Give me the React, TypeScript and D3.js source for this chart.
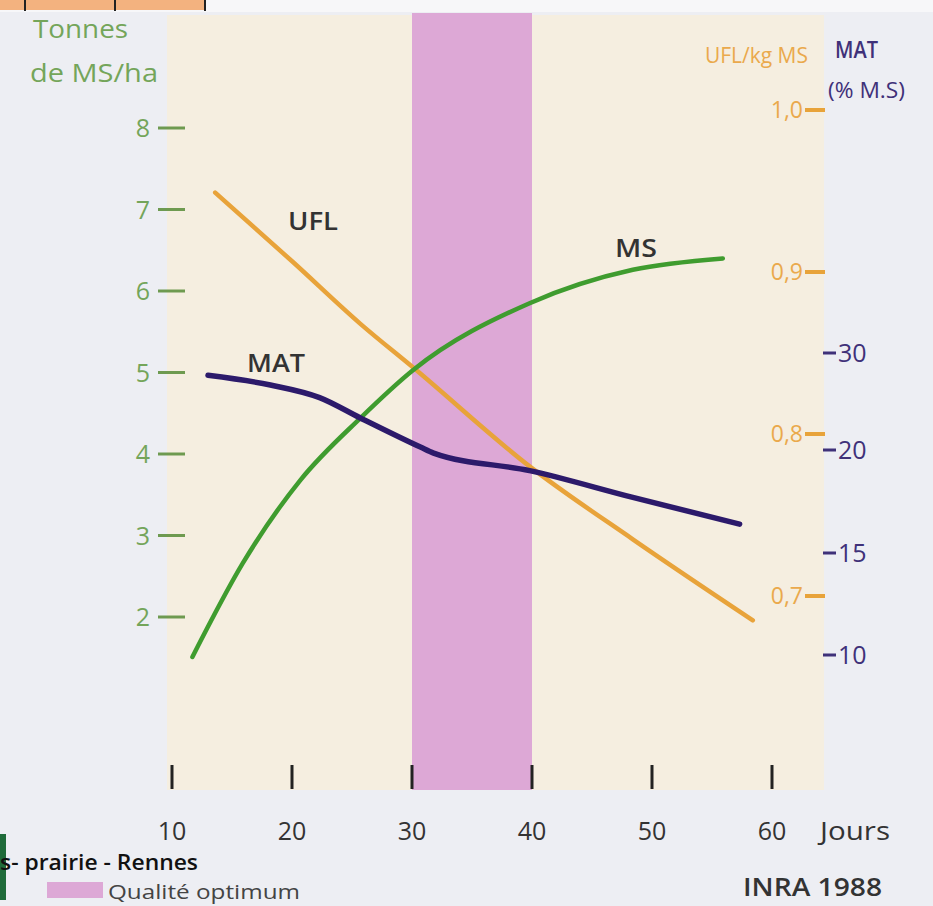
import * as d3 from 'd3'
import React from 'react'

// axis ticks
const dayTicks = [10, 20, 30, 40, 50, 60]
const msTicks = [2, 3, 4, 5, 6, 7, 8]
const uflTicks = [0.7, 0.8, 0.9, 1.0]
const matTicks = [10, 15, 20, 30]

// optimum quality window (days)
const optimum = [30, 40]

// MS : tonnes de matière sèche / ha
const msDays = [11.7, 15.9, 20.7, 25.7, 30.1, 39.8, 48.4, 55.9]
const msValues = [1.51, 2.66, 3.68, 4.44, 5.03, 5.85, 6.26, 6.4]

// UFL / kg MS
const uflDays = [13.6, 20.1, 25.7, 30.1, 39.8, 48.4, 58.4]
const uflValues = [0.949, 0.906, 0.868, 0.841, 0.78, 0.735, 0.685]

// MAT (% MS)
const matDays = [13, 18.2, 22.3, 25.7, 30.7, 31.8, 39.8, 48.4, 57.3]
const matValues = [27.7, 26.7, 25.4, 23.3, 20.3, 19.85, 19.0, 17.7, 16.4]

const W = 933
const H = 906
const FONT = '"Open Sans", "Noto Sans", sans-serif'

const GREEN = '#3f9c2f'
const GREEN_TXT = '#74a55a'
const ORANGE = '#e8a33a'
const ORANGE_TXT = '#eaa94c'
const PURPLE = '#2c1a6b'
const PURPLE_TXT = '#3f3179'
const PINK = '#dda8d6'

export default function App() {
  const x = d3.scaleLinear().domain([10, 60]).range([172, 772])
  const yMS = d3.scaleLinear().domain([2, 8]).range([617, 128])
  const yUFL = d3.scaleLinear().domain([0.7, 1.0]).range([596, 110])
  // the MAT axis of the original is not evenly spaced
  const yMAT = d3.scaleLinear().domain([10, 15, 20, 30]).range([655, 553, 450, 353])

  const panel = { left: 167, right: 824, top: 15, bottom: 790 }

  const line = d3.line<[number, number]>().curve(d3.curveMonotoneX)
  const msPath = line(msDays.map((d, i) => [x(d), yMS(msValues[i])]))
  const uflPath = line(uflDays.map((d, i) => [x(d), yUFL(uflValues[i])]))
  const matPath = line(matDays.map((d, i) => [x(d), yMAT(matValues[i])]))

  return (
    <svg
      width={W}
      height={H}
      style={{ position: 'absolute', left: 0, top: 0, fontFamily: FONT }}
    >
      <rect width={W} height={H} fill="#edeef3" />
      <rect width={W} height={12} fill="#f7f7f9" />

      {/* header strip of the page */}
      <rect x={0} y={0} width={205} height={10} fill="#f3b27f" />
      {[25, 115, 205].map(v => (
        <line key={v} x1={v} x2={v} y1={0} y2={11} stroke="#222" strokeWidth={2} />
      ))}

      {/* chart panel */}
      <rect
        x={panel.left}
        y={panel.top}
        width={panel.right - panel.left}
        height={panel.bottom - panel.top}
        fill="#f5eee0"
      />
      <rect
        x={x(optimum[0])}
        y={13}
        width={x(optimum[1]) - x(optimum[0])}
        height={panel.bottom - 13}
        fill={PINK}
      />

      {/* left axis : MS */}
      <text x={33} y={38} fontSize={25} fill={GREEN_TXT} textLength={95} lengthAdjust="spacingAndGlyphs">
        Tonnes
      </text>
      <text x={30} y={82} fontSize={25} fill={GREEN_TXT} textLength={128} lengthAdjust="spacingAndGlyphs">
        de MS/ha
      </text>
      {msTicks.map(t => (
        <g key={t}>
          <line x1={158} x2={185} y1={yMS(t)} y2={yMS(t)} stroke="#6e9a50" strokeWidth={3} />
          <text x={150} y={yMS(t) + 9} fontSize={25} fill={GREEN_TXT} textAnchor="end">
            {t}
          </text>
        </g>
      ))}

      {/* right axis : UFL */}
      <text x={705} y={63} fontSize={21} fill={ORANGE_TXT} textLength={103} lengthAdjust="spacingAndGlyphs">
        UFL/kg MS
      </text>
      {uflTicks.map(t => (
        <g key={t}>
          <line x1={805} x2={825} y1={yUFL(t)} y2={yUFL(t)} stroke={ORANGE} strokeWidth={4} />
          <text x={803} y={yUFL(t) + 8} fontSize={23} fill={ORANGE_TXT} textAnchor="end">
            {t.toFixed(1).replace('.', ',')}
          </text>
        </g>
      ))}

      {/* right axis : MAT */}
      <text x={835} y={58} fontSize={23} fontWeight={600} fill={PURPLE_TXT} textLength={43} lengthAdjust="spacingAndGlyphs">
        MAT
      </text>
      <text x={828} y={98} fontSize={22} fill={PURPLE_TXT} textLength={77} lengthAdjust="spacingAndGlyphs">
        (% M.S)
      </text>
      {matTicks.map(t => (
        <g key={t}>
          <line x1={823} x2={836} y1={yMAT(t)} y2={yMAT(t)} stroke={PURPLE_TXT} strokeWidth={3} />
          <text x={838} y={yMAT(t) + 9} fontSize={25} fill={PURPLE_TXT}>
            {t}
          </text>
        </g>
      ))}

      {/* x axis : jours */}
      {dayTicks.map(t => (
        <g key={t}>
          <line x1={x(t)} x2={x(t)} y1={765} y2={789} stroke="#222" strokeWidth={3} />
          <text x={x(t)} y={840} fontSize={25} fill="#333" textAnchor="middle">
            {t}
          </text>
        </g>
      ))}
      <text x={820} y={840} fontSize={25} fill="#333" textLength={70} lengthAdjust="spacingAndGlyphs">
        Jours
      </text>

      {/* curves */}
      <path d={uflPath ?? ''} fill="none" stroke={ORANGE} strokeWidth={4.5} strokeLinecap="round" />
      <path d={msPath ?? ''} fill="none" stroke={GREEN} strokeWidth={4.5} strokeLinecap="round" />
      <path d={matPath ?? ''} fill="none" stroke={PURPLE} strokeWidth={5.5} strokeLinecap="round" />

      <text x={288} y={230} fontSize={25} fontWeight={600} fill="#333" textLength={50} lengthAdjust="spacingAndGlyphs">
        UFL
      </text>
      <text x={247} y={372} fontSize={25} fontWeight={600} fill="#333" textLength={58} lengthAdjust="spacingAndGlyphs">
        MAT
      </text>
      <text x={615} y={257} fontSize={25} fontWeight={600} fill="#333" textLength={42} lengthAdjust="spacingAndGlyphs">
        MS
      </text>

      {/* footer */}
      <rect x={0} y={834} width={6} height={66} fill="#1f6b3a" />
      <rect x={47} y={882} width={56} height={16} fill={PINK} />
      <text x={108} y={899} fontSize={20} fill="#444" textLength={192} lengthAdjust="spacingAndGlyphs">
        Qualité optimum
      </text>
      <text x={0} y={870} fontSize={21} fontWeight={600} fill="#111" textLength={198} lengthAdjust="spacingAndGlyphs">
        s- prairie - Rennes
      </text>
      <text x={743} y={896} fontSize={25} fontWeight={600} fill="#333" textLength={139} lengthAdjust="spacingAndGlyphs">
        INRA 1988
      </text>
    </svg>
  )
}
